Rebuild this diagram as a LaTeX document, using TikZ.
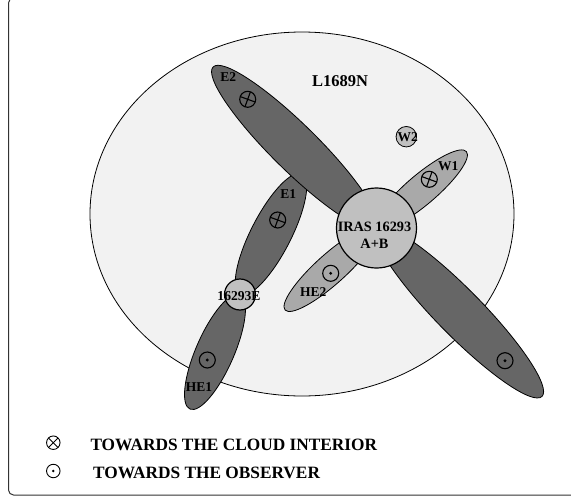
\documentclass[tikz,border=0pt]{standalone}
\usepackage{fontspec}
\setmainfont{Liberation Serif}
\usetikzlibrary{calc}
\definecolor{cloud}{HTML}{F2F2F2}
\definecolor{lobedark}{HTML}{666666}
\definecolor{jetgray}{HTML}{A9A9A9}
\definecolor{srcgray}{HTML}{C0C0C0}
\definecolor{framecol}{HTML}{333333}
\begin{document}
\begin{tikzpicture}[x=1pt,y=-1pt,
  lobe/.style={fill=lobedark, draw=black, line width=0.8pt},
  jet/.style={fill=jetgray, draw=black, line width=0.8pt},
  src/.style={circle, fill=srcgray, draw=black, line width=1.2pt, inner sep=0pt},
  lbl/.style={font=\bfseries\fontsize{13.5}{15}\selectfont, inner sep=0pt},
  into/.style={circle, draw, line width=1.1pt, minimum size=16pt, inner sep=0pt,
    path picture={\draw[line width=1.1pt] (path picture bounding box.center) ++(70:10pt) -- ++(250:20pt);
                  \draw[line width=1.1pt] (path picture bounding box.center) ++(160:10pt) -- ++(340:20pt);}},
  toward/.style={circle, draw, line width=1.1pt, minimum size=16pt, inner sep=0pt,
    path picture={\fill (path picture bounding box.center) circle[radius=1.6pt];}},
  leginto/.style={circle, draw, line width=0.9pt, minimum size=13.5pt, inner sep=0pt,
    path picture={\draw[line width=0.9pt] (path picture bounding box.center) ++(45:8pt) -- ++(225:16pt);
                  \draw[line width=0.9pt] (path picture bounding box.center) ++(135:8pt) -- ++(315:16pt);}},
  legtoward/.style={circle, draw, line width=0.9pt, minimum size=13.5pt, inner sep=0pt,
    path picture={\fill (path picture bounding box.center) circle[radius=1.4pt];}},
  legtext/.style={font=\bfseries\fontsize{17.3}{20}\selectfont, inner sep=0pt, anchor=west}
]
\useasboundingbox (0,0) rectangle (571,498);
\clip (0,0) rectangle (571,498);

% frame
\draw[framecol, line width=1pt, rounded corners=5pt] (8.5,-2) rectangle (620,495);

% cloud
\coordinate (cc) at (302,214);
\draw[fill=cloud, line width=0.8pt] (cc) ellipse [x radius=212pt, y radius=182pt];

% light jets W1 and HE2
\coordinate (w1c) at (421.5,189.8);
\draw[jet, rotate around={40.4:(w1c)}] (w1c) ellipse [x radius=59pt, y radius=15pt];
\coordinate (he2c) at (330.8,269);
\draw[jet, rotate around={41.9:(he2c)}] (he2c) ellipse [x radius=61.4pt, y radius=15pt];

% W2 source
\node[src, minimum size=20.5pt, line width=0.8pt] (w2) at (406.3,136.7) {};

% E1 and HE1 lobes
\coordinate (e1c) at (271,234.3);
\draw[lobe, rotate around={62.8:(e1c)}] (e1c) ellipse [x radius=67.8pt, y radius=20pt];
\coordinate (he1c) at (215,351.8);
\draw[lobe, rotate around={66.4:(he1c)}] (he1c) ellipse [x radius=62.5pt, y radius=19pt];

% E2 and south-east lobes
\coordinate (e2c) at (294.8,147.5);
\draw[lobe, rotate around={-44.6:(e2c)}] (e2c) ellipse [x radius=114.7pt, y radius=23pt];
\coordinate (sec) at (459.3,312.3);
\draw[lobe, rotate around={-45.5:(sec)}] (sec) ellipse [x radius=118pt, y radius=23pt];

% sources
\node[src, minimum size=80pt] (iras) at (376.5,228) {};
\node[src, minimum size=31pt] (e16293) at (240,294.5) {};

% labels
\node[font=\bfseries\fontsize{16.5}{18}\selectfont, inner sep=0pt] (lname) at (340,80.7) {L1689N};
\node[lbl] (le2) at (228.3,77.3) {E2};
\node[lbl] (le1) at (288.3,194.2) {E1};
\node[lbl] (lw2) at (407.7,136.7) {W2};
\node[lbl] (lw1) at (448.3,166) {W1};
\node[lbl] (lhe2) at (313.3,292.3) {HE2};
\node[lbl] (lhe1) at (199,387.3) {HE1};
\node[lbl, font=\bfseries\fontsize{13.6}{15}\selectfont] (l16293e) at (239,296.3) {16293E};
\node[font=\bfseries\fontsize{14.3}{17}\selectfont, align=center, inner sep=0pt] (liras) at (374.5,235) {IRAS 16293\\A+B};

% direction symbols
\node[into] (se2) at (247.7,99.3) {};
\node[into] (se1) at (277.7,220) {};
\node[into] (sw1) at (429.3,179.3) {};
\node[toward] (she1) at (207.3,360) {};
\node[toward] (she2) at (330.7,273.3) {};
\node[toward] (sse) at (505,360.7) {};

% legend
\node[leginto] (k1) at (53.3,442.7) {};
\node[legtext] (t1) at (90.3,444.5) {TOWARDS THE CLOUD INTERIOR};
\node[legtoward] (k2) at (53.3,471) {};
\node[legtext] (t2) at (92.9,473) {TOWARDS THE OBSERVER};
\end{tikzpicture}
\end{document}
